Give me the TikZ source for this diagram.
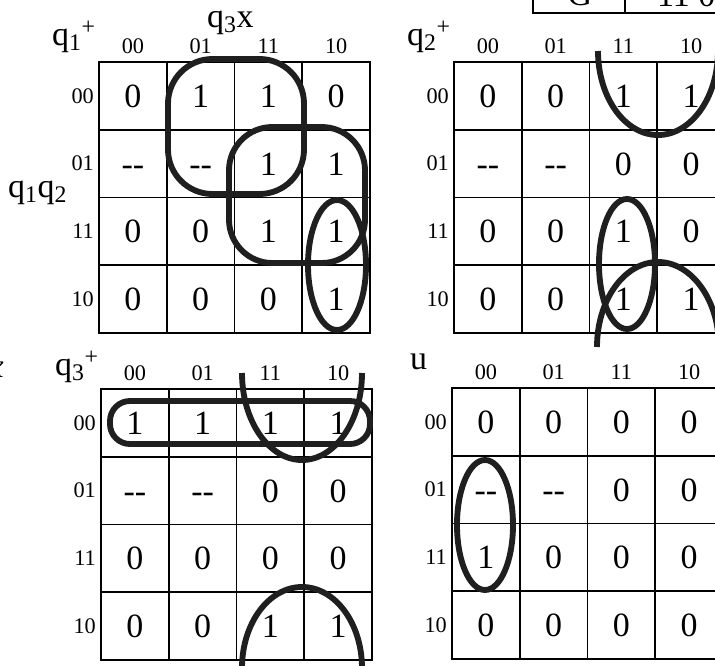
\documentclass[tikz,border=0pt]{standalone}
\usepackage{fontspec}
\setmainfont{Liberation Serif}
\begin{document}
\begin{tikzpicture}[x=0.03cm,y=-0.03cm,
  kgrid/.style={line width=1.3pt},
  kval/.style={anchor=base,inner sep=0pt,font=\fontsize{29}{34}\selectfont},
  klab/.style={inner sep=0pt,font=\fontsize{19}{22}\selectfont},
  ktitle/.style={anchor=base west,inner sep=0pt,font=\fontsize{29}{34}\selectfont},
  kloop/.style={line width=5pt,draw=black!88}]
\useasboundingbox (0,0) rectangle (715,666);

\foreach \m/\ox/\oy in {a/99/62,b/454/62,c/101/389,d/452/388}{
  \draw[kgrid] (\ox,\oy) rectangle ++(271,271);
  \foreach \k in {1,2,3}{
    \draw[kgrid] (\ox+\k*67.75,\oy) -- ++(0,271);
    \draw[kgrid] (\ox,\oy+\k*67.75) -- ++(271,0);
  }
  \foreach \g [count=\k from 0] in {00,01,11,10}{
    \node[klab,anchor=base] (\m-c\k) at (\ox+\k*67.75+33.9,\oy-9) {\g};
    \node[klab,anchor=east] (\m-r\k) at (\ox-5,\oy+\k*67.75+33.9) {\g};
  }
}

\foreach \vals [count=\r from 0] in {{0,1,1,0},{-{}-,-{}-,1,1},{0,0,1,1},{0,0,0,1}}
  \foreach \v [count=\c from 0] in \vals
    \node[kval] (a-\r\c) at (99+\c*67.75+33.9,62+\r*67.75+45.4) {\v};
\foreach \vals [count=\r from 0] in {{0,0,1,1},{-{}-,-{}-,0,0},{0,0,1,0},{0,0,1,1}}
  \foreach \v [count=\c from 0] in \vals
    \node[kval] (b-\r\c) at (454+\c*67.75+33.9,62+\r*67.75+45.4) {\v};
\foreach \vals [count=\r from 0] in {{1,1,1,1},{-{}-,-{}-,0,0},{0,0,0,0},{0,0,1,1}}
  \foreach \v [count=\c from 0] in \vals
    \node[kval] (c-\r\c) at (101+\c*67.75+33.9,389+\r*67.75+45.4) {\v};
\foreach \vals [count=\r from 0] in {{0,0,0,0},{-{}-,-{}-,0,0},{1,0,0,0},{0,0,0,0}}
  \foreach \v [count=\c from 0] in \vals
    \node[kval] (d-\r\c) at (452+\c*67.75+33.9,388+\r*67.75+45.4) {\v};

\node[ktitle] (ta) at (52,45) {q\textsubscript{1}\textsuperscript{+}};
\node[ktitle] (tax) at (207,27) {q\textsubscript{3}x};
\node[ktitle] (tay) at (8,197) {q\textsubscript{1}q\textsubscript{2}};
\node[ktitle] (tb) at (407,45) {q\textsubscript{2}\textsuperscript{+}};
\node[ktitle] (tc) at (55,375) {q\textsubscript{3}\textsuperscript{+}};
\node[ktitle] (td) at (410,369) {u};
\node[ktitle,anchor=base east] (xf) at (4,377) {\textit{x}};

\draw[kgrid] (533,-30) rectangle (760,13);
\draw[kgrid] (625,-30) -- (625,13);
\node[kval] (tg) at (580,5) {G};
\node[kval,anchor=base west] (tv) at (657,6) {11 0};

\draw[kloop,rounded corners=38pt] (168,59) rectangle (304,194);
\draw[kloop,rounded corners=37pt] (229,127) rectangle (365,263);
\draw[kloop] (337,265) ellipse [x radius=29,y radius=65];

\draw[kloop] (598,51) arc[start angle=180,end angle=0,x radius=60,y radius=84];
\draw[kloop] (597,347) arc[start angle=180,end angle=360,x radius=61,y radius=85];
\draw[kloop] (627,264) ellipse [x radius=28,y radius=65];

\draw[kloop,rounded corners=17pt] (110,401) rectangle (370,444);
\draw[kloop] (242,373) arc[start angle=180,end angle=0,x radius=60,y radius=87];
\draw[kloop] (242,668) arc[start angle=180,end angle=360,x radius=60,y radius=81];

\draw[kloop] (485,525) ellipse [x radius=28,y radius=65];
\end{tikzpicture}
\end{document}
